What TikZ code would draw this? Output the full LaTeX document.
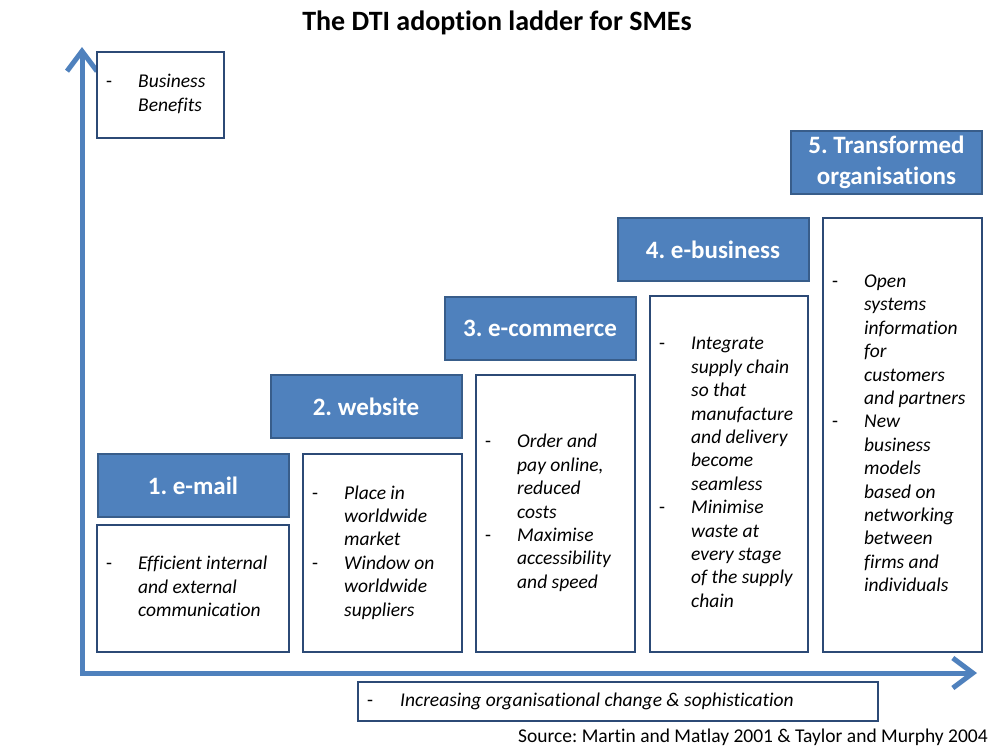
\documentclass[tikz,border=0pt]{standalone}
\usepackage{fontspec}
\setmainfont{Carlito}[Ligatures={NoCommon}]
\usetikzlibrary{arrows.meta}
\definecolor{axisblue}{RGB}{79,129,189}
\definecolor{edgeblue}{RGB}{56,93,138}
\definecolor{boxedge}{RGB}{44,74,118}
\newcommand{\bodyfont}{\fontsize{19.5}{23.4}\selectfont}
\frenchspacing
\begin{document}
\begin{tikzpicture}[x=1pt,y=-1pt,
  hdr/.style={draw=edgeblue, fill=axisblue, line width=2pt, inner sep=0pt,
    minimum width=191pt, minimum height=63pt, text=white,
    font=\fontsize{25}{30.5}\selectfont\bfseries, align=center},
  cbox/.style={draw=boxedge, fill=white, line width=2pt, inner sep=0pt},
  ctext/.style={anchor=west, inner sep=0pt, font=\bodyfont, text=black},
  axisline/.style={draw=axisblue, line width=5pt, line join=miter,
    {Straight Barb[length=20pt,width=30pt]}-{Straight Barb[length=20pt,width=30pt]}}
]
\useasboundingbox (0,0) rectangle (1000,750);
\fill[white] (0,0) rectangle (1000,750);

% title
\node[font=\fontsize{28}{33}\selectfont\bfseries] (title) at (497,23) {The DTI adoption ladder for SMEs};

% axes
\coordinate (ytop) at (82,47);
\coordinate (origin) at (82,673);
\coordinate (xend) at (977,673);
\draw[axisline] (ytop) -- (origin) -- (xend);

% business benefits
\node[cbox, minimum width=127pt, minimum height=86pt] (bb) at (160.5,95) {};
\node[ctext] (bbt) at ([xshift=10pt]bb.west) {\begin{tabular}{@{}p{32pt}@{}l@{}}-&\itshape Business\\&\itshape Benefits\end{tabular}};

% headers
\node[hdr] (h1) at (193,485.5) {1. e-mail};
\node[hdr] (h2) at (366,406.5) {2. website};
\node[hdr] (h3) at (540,328) {3. e-commerce};
\node[hdr] (h4) at (713,249.5) {4. e-business};
\node[hdr] (h5) at (886.5,162.5) {5. Transformed\\organisations};

% content boxes
\node[cbox, minimum width=192pt, minimum height=127pt] (c1) at (193,588.5) {};
\node[cbox, minimum width=159pt, minimum height=198pt] (c2) at (382.5,553) {};
\node[cbox, minimum width=159pt, minimum height=277pt] (c3) at (555.5,513.5) {};
\node[cbox, minimum width=158pt, minimum height=356pt] (c4) at (729,474) {};
\node[cbox, minimum width=159pt, minimum height=434pt] (c5) at (902.5,435) {};

\node[ctext] (t1) at ([xshift=10pt]c1.west) {\begin{tabular}{@{}p{32pt}@{}l@{}}
-&\itshape Efficient internal\\&\itshape and external\\&\itshape communication\end{tabular}};
\node[ctext] (t2) at ([xshift=10pt]c2.west) {\begin{tabular}{@{}p{32pt}@{}l@{}}
-&\itshape Place in\\&\itshape worldwide\\&\itshape market\\
-&\itshape Window on\\&\itshape worldwide\\&\itshape suppliers\end{tabular}};
\node[ctext] (t3) at ([xshift=10pt]c3.west) {\begin{tabular}{@{}p{32pt}@{}l@{}}
-&\itshape Order and\\&\itshape pay online,\\&\itshape reduced\\&\itshape costs\\
-&\itshape Maximise\\&\itshape accessibility\\&\itshape and speed\end{tabular}};
\node[ctext] (t4) at ([xshift=10pt]c4.west) {\begin{tabular}{@{}p{32pt}@{}l@{}}
-&\itshape Integrate\\&\itshape supply chain\\&\itshape so that\\&\itshape manufacture\\&\itshape and delivery\\&\itshape become\\&\itshape seamless\\
-&\itshape Minimise\\&\itshape waste at\\&\itshape every stage\\&\itshape of the supply\\&\itshape chain\end{tabular}};
\node[ctext] (t5) at ([xshift=10pt]c5.west) {\begin{tabular}{@{}p{32pt}@{}l@{}}
-&\itshape Open\\&\itshape systems\\&\itshape information\\&\itshape for\\&\itshape customers\\&\itshape and partners\\
-&\itshape New\\&\itshape business\\&\itshape models\\&\itshape based on\\&\itshape networking\\&\itshape between\\&\itshape firms and\\&\itshape individuals\end{tabular}};

% bottom label
\node[cbox, minimum width=520pt, minimum height=39pt] (xl) at (618,701.5) {};
\node[ctext] (xlt) at ([xshift=10pt]xl.west) {\begin{tabular}{@{}p{33pt}@{}l@{}}-&\itshape Increasing organisational change \& sophistication\end{tabular}};

% source
\node[anchor=east, inner sep=0pt, font=\bodyfont] (src) at (988,737) {Source: Martin and Matlay 2001 \& Taylor and Murphy 2004};
\end{tikzpicture}
\end{document}
